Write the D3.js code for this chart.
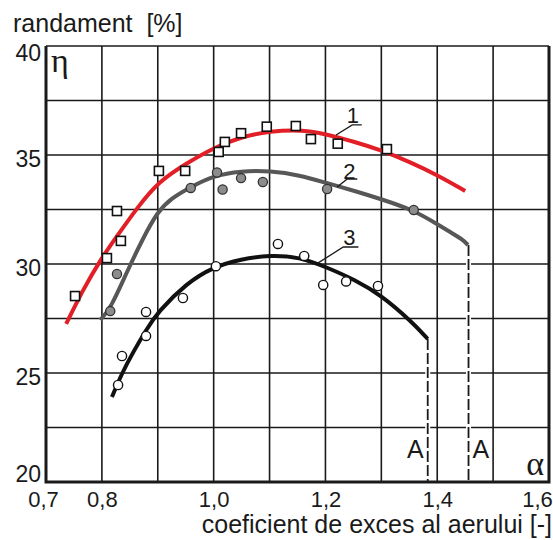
<!DOCTYPE html>
<html>
<head>
<meta charset="utf-8">
<script src="https://cdn.jsdelivr.net/npm/d3@7"></script>
<style>
  body { margin: 0; background: #fff; }
  svg { display: block; font-family: "Liberation Sans", Arial, sans-serif; }
</style>
</head>
<body>
<div id="chart"></div>
<script>
// grid and tick values
const gridX = [0.7, 0.8, 0.9, 1.0, 1.1, 1.2, 1.3, 1.4, 1.5, 1.6];
const gridY = [20, 22.5, 25, 27.5, 30, 32.5, 35, 37.5, 40];
const xTicks = [0.7, 0.8, 1.0, 1.2, 1.4, 1.6];
const yTicks = [20, 25, 30, 35, 40];

// curve 1 (red) - fitted line and measured points
const curve1 = [[0.736, 27.25], [0.766, 28.81], [0.797, 30.18], [0.827, 31.28], [0.863, 32.57],
  [0.9, 33.76], [0.952, 34.63], [0.999, 35.32], [1.049, 35.83], [1.101, 36.1], [1.16, 36.15],
  [1.201, 35.96], [1.253, 35.6], [1.299, 35.23], [1.351, 34.68], [1.4, 34.08], [1.45, 33.35]];
const points1 = [[0.752, 28.53], [0.809, 30.27], [0.834, 31.06], [0.827, 32.43], [0.902, 34.27],
  [0.949, 34.27], [1.009, 35.14], [1.02, 35.6], [1.049, 36.0], [1.095, 36.3], [1.147, 36.33],
  [1.174, 35.73], [1.222, 35.52], [1.31, 35.27]];

// curve 2 (grey)
const curve2 = [[0.797, 27.43], [0.816, 27.98], [0.843, 29.54], [0.872, 31.1], [0.899, 32.39],
  [0.925, 33.03], [0.959, 33.53], [0.999, 34.04], [1.049, 34.27], [1.101, 34.27], [1.154, 34.08],
  [1.201, 33.72], [1.253, 33.35], [1.299, 32.98], [1.357, 32.48], [1.4, 31.83], [1.426, 31.42],
  [1.444, 31.15], [1.455, 30.87]];
const points2 = [[0.815, 27.84], [0.827, 29.54], [0.959, 33.49], [1.006, 34.2], [1.016, 33.42],
  [1.049, 33.94], [1.088, 33.76], [1.203, 33.44], [1.358, 32.48]];

// curve 3 (black)
const curve3 = [[0.818, 23.9], [0.836, 25.0], [0.856, 25.96], [0.879, 26.97], [0.9, 27.8],
  [0.952, 29.13], [0.999, 29.86], [1.049, 30.23], [1.101, 30.41], [1.154, 30.32], [1.201, 29.86],
  [1.253, 29.27], [1.299, 28.58], [1.355, 27.34], [1.383, 26.56]];
const points3 = [[0.829, 24.45], [0.836, 25.78], [0.879, 26.7], [0.879, 27.8], [0.945, 28.44],
  [1.004, 29.9], [1.115, 30.92], [1.162, 30.37], [1.196, 29.04], [1.237, 29.2], [1.294, 28.99]];

// curve labels: text, text position, leader line
const curveLabels = [
  {text: "1", at: [1.249, 36.46], leader: [[1.219, 35.92], [1.248, 36.38], [1.265, 36.38]]},
  {text: "2", at: [1.243, 33.9], leader: [[1.221, 33.53], [1.239, 33.9], [1.257, 33.9]]},
  {text: "3", at: [1.243, 30.87], leader: [[1.187, 30.05], [1.232, 30.78], [1.259, 30.78]]}
];

// limit lines "A"
const limits = [
  {alpha: 1.383, from: 26.56, labelSide: -1},
  {alpha: 1.456, from: 30.87, labelSide: 1}
];

const width = 553;
const height = 540;
const marginTop = 46;
const marginRight = 4;
const marginBottom = 58;
const marginLeft = 46;

const x = d3.scaleLinear()
  .domain([0.7, 1.6])
  .range([marginLeft, width - marginRight]);

const y = d3.scaleLinear()
  .domain([20, 40])
  .range([height - marginBottom, marginTop]);

const svg = d3.select("#chart")
  .append("svg")
  .attr("width", width)
  .attr("height", height)
  .attr("viewBox", [0, 0, width, height]);

// grid
svg.append("g")
  .attr("stroke", "#1a1a1a")
  .attr("stroke-width", 1.6)
  .call(g => g.selectAll(".vx")
    .data(gridX)
    .join("line")
    .attr("x1", d => x(d))
    .attr("x2", d => x(d))
    .attr("y1", y(40))
    .attr("y2", y(20)))
  .call(g => g.selectAll(".hy")
    .data(gridY)
    .join("line")
    .attr("y1", d => y(d))
    .attr("y2", d => y(d))
    .attr("x1", x(0.7))
    .attr("x2", x(1.6)));

// frame (heavier on left, bottom, right)
svg.append("path")
  .attr("fill", "none")
  .attr("stroke", "#1a1a1a")
  .attr("stroke-width", 3)
  .attr("d", `M${x(0.7)},${y(40)}V${y(20)}H${x(1.6)}V${y(40)}`);

// limit dashed lines
const lim = svg.append("g");
lim.selectAll(".bg")
  .data(limits)
  .join("line")
  .attr("x1", d => x(d.alpha))
  .attr("x2", d => x(d.alpha))
  .attr("y1", d => y(d.from))
  .attr("y2", y(20) - 2)
  .attr("stroke", "#fff")
  .attr("stroke-width", 5);
lim.selectAll(".dash")
  .data(limits)
  .join("line")
  .attr("x1", d => x(d.alpha))
  .attr("x2", d => x(d.alpha))
  .attr("y1", d => y(d.from))
  .attr("y2", y(20))
  .attr("stroke", "#1a1a1a")
  .attr("stroke-width", 1.8)
  .attr("stroke-dasharray", "11,3");
lim.selectAll("text")
  .data(limits)
  .join("text")
  .attr("x", d => x(d.alpha) + d.labelSide * 4)
  .attr("y", y(20) - 24)
  .attr("text-anchor", d => d.labelSide < 0 ? "end" : "start")
  .attr("font-size", 25)
  .attr("fill", "#1a1a1a")
  .text("A");

// curves
const line = d3.line()
  .x(d => x(d[0]))
  .y(d => y(d[1]))
  .curve(d3.curveBasis);

const curves = [
  {data: curve1, color: "#e21f26"},
  {data: curve2, color: "#575757"},
  {data: curve3, color: "#111"}
];

svg.append("g")
  .attr("fill", "none")
  .attr("stroke-width", 4)
  .attr("stroke-linecap", "butt")
  .selectAll("path")
  .data(curves)
  .join("path")
  .attr("stroke", d => d.color)
  .attr("d", d => line(d.data));

// markers
svg.append("g")
  .selectAll("rect")
  .data(points1)
  .join("rect")
  .attr("x", d => x(d[0]) - 4.5)
  .attr("y", d => y(d[1]) - 4.5)
  .attr("width", 9)
  .attr("height", 9)
  .attr("fill", "#fff")
  .attr("stroke", "#111")
  .attr("stroke-width", 1.6);

svg.append("g")
  .selectAll("circle")
  .data(points2)
  .join("circle")
  .attr("cx", d => x(d[0]))
  .attr("cy", d => y(d[1]))
  .attr("r", 4.6)
  .attr("fill", "#8c8c8c")
  .attr("stroke", "#333")
  .attr("stroke-width", 1.3);

svg.append("g")
  .selectAll("circle")
  .data(points3)
  .join("circle")
  .attr("cx", d => x(d[0]))
  .attr("cy", d => y(d[1]))
  .attr("r", 4.6)
  .attr("fill", "#fff")
  .attr("stroke", "#111")
  .attr("stroke-width", 1.4);

// curve labels with leaders
const lab = svg.append("g");
lab.selectAll("path")
  .data(curveLabels)
  .join("path")
  .attr("fill", "none")
  .attr("stroke", "#1a1a1a")
  .attr("stroke-width", 1.3)
  .attr("d", d => d3.line().x(p => x(p[0])).y(p => y(p[1]))(d.leader));
lab.selectAll("text")
  .data(curveLabels)
  .join("text")
  .attr("x", d => x(d.at[0]))
  .attr("y", d => y(d.at[1]))
  .attr("text-anchor", "middle")
  .attr("font-size", 22)
  .attr("fill", "#1a1a1a")
  .text(d => d.text);

// axes labels
svg.append("g")
  .attr("transform", `translate(0,${height - marginBottom})`)
  .call(d3.axisBottom(x).tickValues(xTicks).tickSize(0).tickPadding(9)
    .tickFormat(d => d.toFixed(1).replace(".", ",")))
  .call(g => g.select(".domain").remove())
  .call(g => g.selectAll("text")
    .attr("font-size", 22)
    .attr("font-family", "Liberation Sans, Arial, sans-serif")
    .attr("fill", "#1a1a1a")
    .attr("dx", d => d === 0.7 ? -3 : d === 1.6 ? -12 : 0));

svg.append("g")
  .attr("transform", `translate(${marginLeft},0)`)
  .call(d3.axisLeft(y).tickValues(yTicks).tickSize(0).tickPadding(5))
  .call(g => g.select(".domain").remove())
  .call(g => g.selectAll("text")
    .attr("font-size", 23)
    .attr("font-family", "Liberation Sans, Arial, sans-serif")
    .attr("fill", "#1a1a1a")
    .attr("dy", d => d === 20 ? "-0.02em" : d === 40 ? "0.62em" : "0.5em"));

svg.append("text")
  .attr("x", 13)
  .attr("y", 32)
  .attr("font-size", 25)
  .attr("fill", "#1a1a1a")
  .attr("xml:space", "preserve")
  .text("randament  [%]");

svg.append("text")
  .attr("x", width - 1)
  .attr("y", 533)
  .attr("text-anchor", "end")
  .attr("font-size", 25)
  .attr("fill", "#1a1a1a")
  .text("coeficient de exces al aerului [-]");

// greek symbols
svg.append("text")
  .attr("x", x(0.7) + 5)
  .attr("y", y(40) + 26)
  .attr("font-family", "Liberation Serif, DejaVu Serif, serif")
  .attr("font-size", 34)
  .attr("fill", "#1a1a1a")
  .text("η");

svg.append("text")
  .attr("x", x(1.6) - 5)
  .attr("y", y(20) - 7)
  .attr("text-anchor", "end")
  .attr("font-family", "Liberation Serif, DejaVu Serif, serif")
  .attr("font-size", 34)
  .attr("fill", "#1a1a1a")
  .text("α");
</script>
</body>
</html>
